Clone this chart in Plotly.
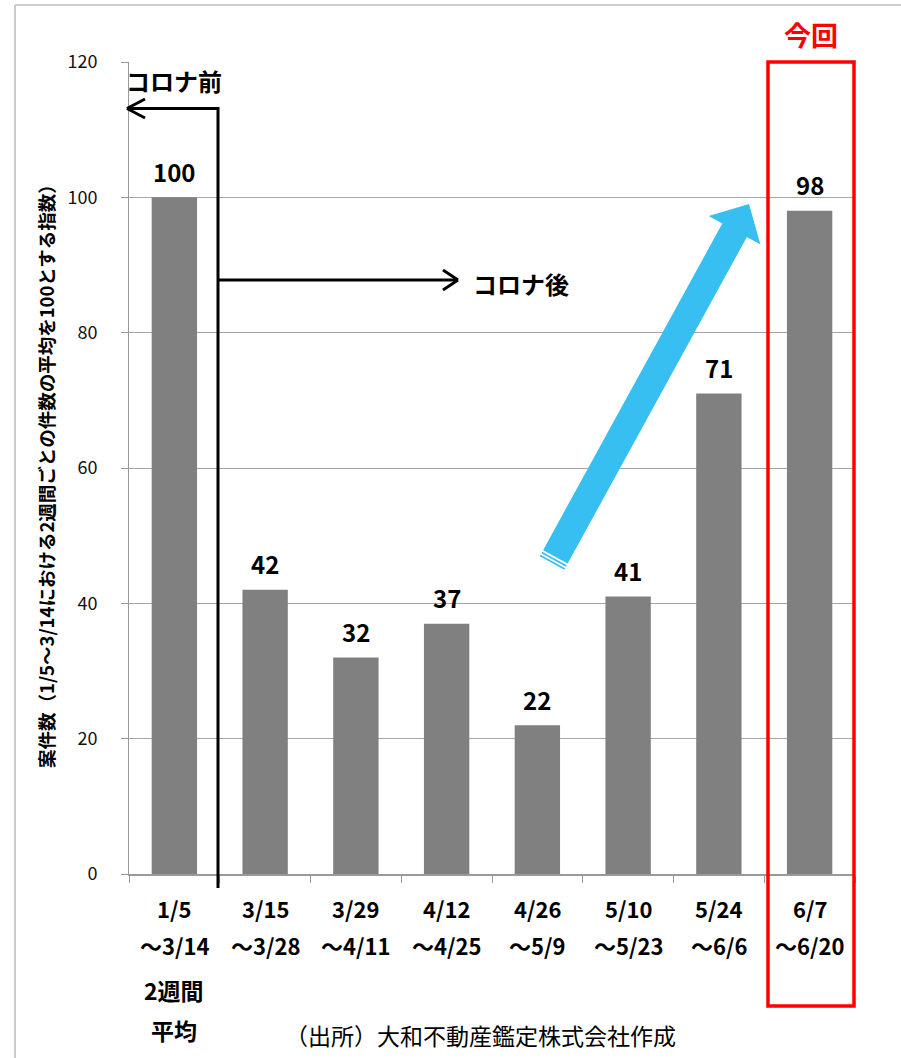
import numpy as np
import plotly.graph_objects as go

# ---- data ----
categories = ["1/5", "3/15", "3/29", "4/12", "4/26", "5/10", "5/24", "6/7"]
range_end = ["～3/14", "～3/28", "～4/11", "～4/25", "～5/9", "～5/23", "～6/6", "～6/20"]
values = [100, 42, 32, 37, 22, 41, 71, 98]
first_extra = ["2週間", "平均"]
y_ticks = [0, 20, 40, 60, 80, 100, 120]
y_title = "案件数（1/5～3/14における2週間ごとの件数の平均を100とする指数）"
source_note = "（出所）大和不動産鑑定株式会社作成"
label_before = "コロナ前"
label_after = "コロナ後"
label_now = "今回"

W, H = 901, 1058
L, R, T, B = 129, 855, 62, 874
FONT = "Noto Sans CJK JP"


def P(px, py):
    return (px - L) / (R - L), (B - py) / (B - T)


fig = go.Figure()
fig.add_trace(go.Bar(x=categories, y=values, marker=dict(color="#808080", line=dict(width=0)),
                     hoverinfo="skip"))

shapes = []
annotations = []


def text_at(px, py, txt, size, color="#000", xanchor="center", angle=0):
    x, y = P(px, py)
    annotations.append(dict(x=x, y=y, xref="paper", yref="paper", text=txt, showarrow=False,
                            xanchor=xanchor, yanchor="middle", textangle=angle,
                            font=dict(family=FONT, size=size, color=color)))


# data labels
for c, v in zip(categories, values):
    annotations.append(dict(x=c, y=v, xref="x", yref="y", text=f"<b>{v}</b>", showarrow=False,
                            yanchor="middle", yshift=26, font=dict(family=FONT, size=24, color="#000")))

# category labels (multi-line)
for c, e in zip(categories, range_end):
    for txt, py in ((c, 908), (e, 945)):
        annotations.append(dict(x=c, xref="x", y=P(0, py)[1], yref="paper", text=f"<b>{txt}</b>",
                                showarrow=False, yanchor="middle",
                                font=dict(family=FONT, size=22, color="#000")))
for txt, py in zip(first_extra, (990, 1030)):
    annotations.append(dict(x=categories[0], xref="x", y=P(0, py)[1], yref="paper", text=f"<b>{txt}</b>",
                            showarrow=False, yanchor="middle",
                            font=dict(family=FONT, size=23, color="#000")))

# y axis title
text_at(46, 472, f"<b>{y_title}</b>", 18.5, angle=-90)
# source note
text_at(480, 1035, source_note, 23)
# corona labels
text_at(124, 80, f"<b>{label_before}</b>", 24, xanchor="left")
text_at(471, 283, f"<b>{label_after}</b>", 24, xanchor="left")
text_at(811, 35, f"<b>{label_now}</b>", 27, color="#FF0000")


def line(p1, p2, color="#000", width=3):
    x0, y0 = P(*p1)
    x1, y1 = P(*p2)
    shapes.append(dict(type="line", xref="paper", yref="paper", x0=x0, y0=y0, x1=x1, y1=y1,
                       line=dict(color=color, width=width)))


# outer frame
line((15, 5), (901, 5), color="#BBBBBB", width=1.5)
line((15, 5), (15, 1058), color="#BBBBBB", width=1.5)

# black arrows
line((218, 888), (218, 107))
line((219, 108.5), (127, 108.5))
line((127, 108.5), (145, 99))
line((127, 108.5), (145, 118))
line((218, 280), (458, 280))
line((458, 280), (443, 270))
line((458, 280), (443, 290))

# red box
x0, y0 = P(768, 1006)
x1, y1 = P(854, 62)
shapes.append(dict(type="rect", xref="paper", yref="paper", x0=x0, y0=y0, x1=x1, y1=y1,
                   line=dict(color="#FF0000", width=3.5), fillcolor="rgba(0,0,0,0)"))

# blue striped arrow
tail = np.array([552.0, 563.0])
tip = np.array([749.0, 204.0])
d = tip - tail
length = np.linalg.norm(d)
u = d / length
n = np.array([-u[1], u[0]])
shaft_w, head_w, head_l = 28, 59, 30
blue = "#38BFF2"


def pt(t, s):
    p = tail + u * t + n * s
    return P(p[0], p[1])


def poly(pts, color):
    path = "M " + " L ".join(f"{x:.5f},{y:.5f}" for x, y in pts) + " Z"
    shapes.append(dict(type="path", xref="paper", yref="paper", path=path,
                       fillcolor=color, line=dict(width=0), layer="above"))


hb = length - head_l
poly([pt(7, -shaft_w / 2), pt(hb, -shaft_w / 2), pt(hb, -head_w / 2), pt(length, 0),
      pt(hb, head_w / 2), pt(hb, shaft_w / 2), pt(7, shaft_w / 2)], blue)
poly([pt(3.5, -shaft_w / 2), pt(5.2, -shaft_w / 2), pt(5.2, shaft_w / 2), pt(3.5, shaft_w / 2)], blue)
poly([pt(0, -shaft_w / 2), pt(1.7, -shaft_w / 2), pt(1.7, shaft_w / 2), pt(0, shaft_w / 2)], blue)

fig.update_layout(
    width=W, height=H,
    margin=dict(l=L, r=W - R, t=T, b=H - B),
    plot_bgcolor="white", paper_bgcolor="white",
    showlegend=False, bargap=0.5,
    font=dict(family=FONT, color="#000"),
    shapes=shapes, annotations=annotations,
    xaxis=dict(type="category", showticklabels=False, tickson="boundaries", ticks="outside",
               ticklen=7, tickcolor="#999999", showline=True, linecolor="#999999", linewidth=1.5,
               showgrid=False, range=[-0.5, 7.5], fixedrange=True),
    yaxis=dict(range=[0, 120], tickvals=y_ticks, ticks="outside", ticklen=7, tickcolor="#999999",
               showgrid=True, gridcolor="#A6A6A6", gridwidth=1, showline=True, linecolor="#999999",
               linewidth=1, zeroline=False, tickfont=dict(family=FONT, size=18, color="#111"),
               ticklabelstandoff=20, fixedrange=True),
)

fig.write_html("out.html")
